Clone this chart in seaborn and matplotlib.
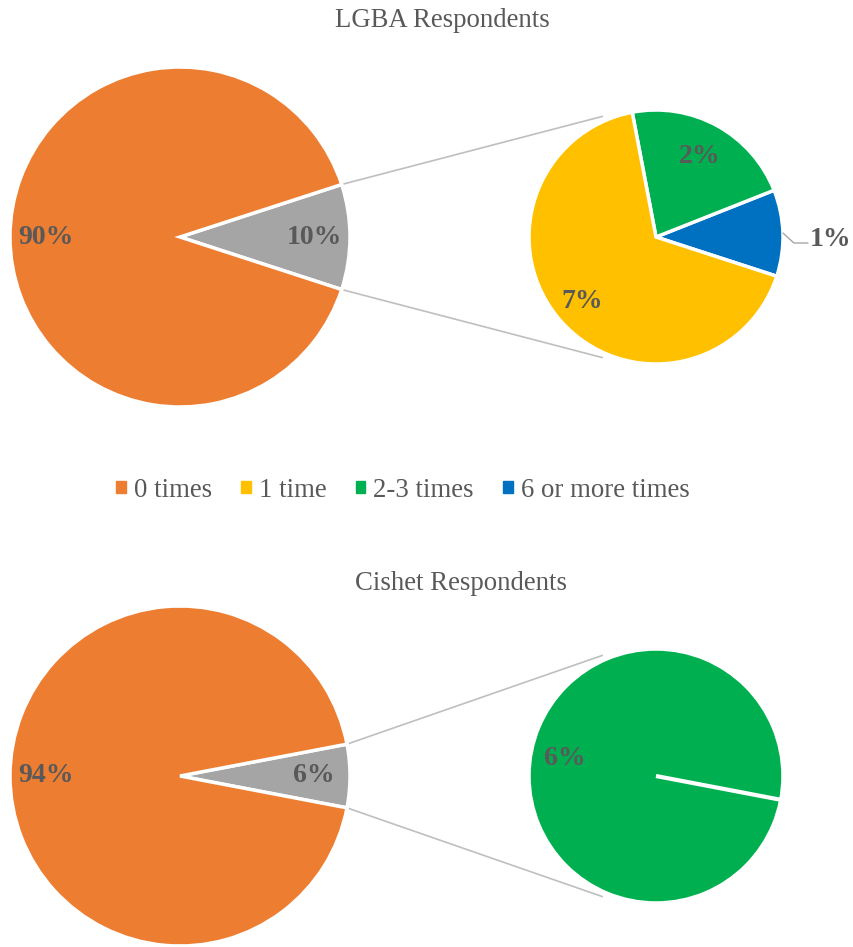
import numpy as np
import matplotlib
matplotlib.use("Agg")
import matplotlib.pyplot as plt
import seaborn as sns

sns.set_theme(style="white")
plt.rcParams["font.family"] = ["Liberation Serif", "DejaVu Serif"]

# ---- data ----
categories = ["0 times", "1 time", "2-3 times", "6 or more times"]
colors = ["#ED7D31", "#FFC000", "#00B050", "#0070C0"]
other_color = "#A5A5A5"

# LGBA respondents: main split (0 times vs. any), then breakdown of "any"
lgba_main = [10, 90]                 # [other, 0 times]
lgba_sub_labels = ["6 or more times", "2-3 times", "1 time"]
lgba_sub = [1.1, 2.2, 6.7]

# Cishet respondents
cishet_main = [6, 94]
cishet_sub_labels = ["2-3 times"]
cishet_sub = [6]

W, H = 854, 947
fig = plt.figure(figsize=(W / 100, H / 100), dpi=100)
ax = fig.add_axes([0, 0, 1, 1])

TXT = "#595959"
LINE = "#BFBFBF"
LBL_SIZE = 20
cmap = dict(zip(categories, colors))


def py(y):
    return H - y


def pie_of_pie(cy, main_vals, sub_vals, sub_labels, sub_pct_pos):
    main_c = (180, py(cy))
    main_r = 170
    sub_c = (656, py(cy))
    sub_r = 127
    other, rest = main_vals
    half = 360 * other / sum(main_vals) / 2
    total = sum(main_vals)

    w, _ = ax.pie(main_vals, colors=[other_color, colors[0]], center=main_c,
                  radius=main_r, startangle=-half, counterclock=True,
                  wedgeprops=dict(edgecolor="white", linewidth=2.5))
    for wd in w:
        wd.set_zorder(3)
    # percent labels of main pie
    for val, ang in [(other, 0.0), (rest, 180.0)]:
        d = 0.79 * main_r
        ax.text(main_c[0] + d * np.cos(np.radians(ang)),
                main_c[1] + d * np.sin(np.radians(ang)),
                f"{val / total * 100:.0f}%", ha="center", va="center",
                fontsize=LBL_SIZE, fontweight="bold", color=TXT, zorder=5)

    # secondary pie
    sub_cols = [cmap[l] for l in sub_labels]
    w2, _ = ax.pie(sub_vals, colors=sub_cols, center=sub_c, radius=sub_r,
                   startangle=-half, counterclock=True,
                   wedgeprops=dict(edgecolor="white", linewidth=2.5))
    for wd in w2:
        wd.set_zorder(3)
    if len(sub_vals) == 1:
        # a single full slice still shows its white seam
        a = np.radians(-half)
        ax.plot([sub_c[0], sub_c[0] + sub_r * np.cos(a)],
                [sub_c[1], sub_c[1] + sub_r * np.sin(a)],
                color="white", lw=3, zorder=4, solid_capstyle="butt")

    # connector lines
    for s in (1, -1):
        a0 = np.radians(s * half)
        a1 = np.radians(s * 114)
        x0 = main_c[0] + main_r * np.cos(a0)
        y0 = main_c[1] + main_r * np.sin(a0)
        x1 = sub_c[0] + (sub_r + 5) * np.cos(a1)
        y1 = sub_c[1] + (sub_r + 5) * np.sin(a1)
        ax.plot([x0, x1], [y0, y1], color=LINE, lw=1.2, zorder=1)

    # secondary labels
    sub_total = sum(sub_vals)
    start = -half
    for val, pos in zip(sub_vals, sub_pct_pos):
        span = 360 * val / sub_total
        mid = np.radians(start + span / 2)
        start += span
        label = f"{val / total * 100:.0f}%"
        if pos == "outside":
            ex = sub_c[0] + sub_r * np.cos(mid)
            ey = sub_c[1] + sub_r * np.sin(mid)
            ax.plot([ex, ex + 11, ex + 25], [ey, ey - 10, ey - 10],
                    color="#A6A6A6", lw=1, zorder=4)
            ax.text(ex + 27, ey - 6, label, ha="left", va="center",
                    fontsize=LBL_SIZE, fontweight="bold", color=TXT, zorder=5)
        else:
            d = pos * sub_r
            ax.text(sub_c[0] + d * np.cos(mid), sub_c[1] + d * np.sin(mid),
                    label, ha="center", va="center", fontsize=LBL_SIZE,
                    fontweight="bold", color=TXT, zorder=5)


pie_of_pie(237, lgba_main, lgba_sub, lgba_sub_labels, ["outside", 0.72, 0.77])
pie_of_pie(776, cishet_main, cishet_sub, cishet_sub_labels, [0.73])

ax.text(442, py(20), "LGBA Respondents", ha="center", va="center",
        fontsize=19.3, color=TXT)
ax.text(461, py(583), "Cishet Respondents", ha="center", va="center",
        fontsize=19.3, color=TXT)

handles = [plt.Rectangle((0, 0), 1, 1, color=c) for c in colors]
leg = fig.legend(handles, categories, loc="center", bbox_to_anchor=(403 / W, 1 - 490 / H),
                 ncol=4, frameon=False, fontsize=19.3, handlelength=0.35,
                 handleheight=0.35, handletextpad=0.3, columnspacing=1.1)
for t in leg.get_texts():
    t.set_color(TXT)

ax.set_xlim(0, W)
ax.set_ylim(0, H)
ax.set_aspect("equal")
ax.axis("off")

fig.savefig("out.png", dpi=100)
